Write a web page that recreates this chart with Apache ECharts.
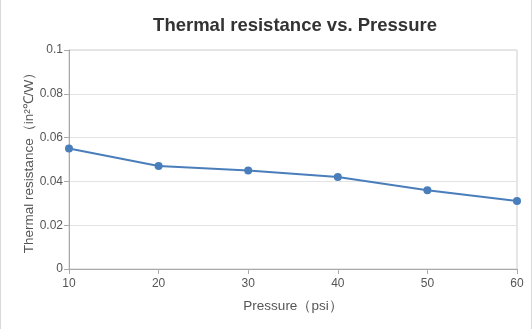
<!DOCTYPE html>
<html><head><meta charset="utf-8">
<script src="https://cdn.jsdelivr.net/npm/echarts@6/dist/echarts.min.js"></script>
<style>
html,body{margin:0;padding:0;background:#fff;}
#c{width:530px;height:329px;border-left:1px solid #d9d9d9;border-right:1px solid #d9d9d9;}
</style></head>
<body><div id="c"></div>
<script>
var pressures = [10, 20, 30, 40, 50, 60];
var resistance = [0.055, 0.047, 0.045, 0.042, 0.036, 0.031];
var chart = echarts.init(document.getElementById('c'));
chart.setOption({
  animation: false,
  title: {
    text: 'Thermal resistance vs. Pressure',
    left: 289, top: 11, textAlign: 'center',
    textStyle: {fontFamily: 'Liberation Sans', fontSize: 18.5, fontWeight: 'bold', color: '#333'}
  },
  grid: {left: 68, right: 14, top: 50, bottom: 60, show: true, borderColor: '#cccccc', borderWidth: 1},
  xAxis: {
    type: 'value', min: 10, max: 60, interval: 10,
    name: 'Pressure（psi）', nameLocation: 'middle', nameGap: 30,
    nameTextStyle: {fontFamily: 'Liberation Sans', fontSize: 13.5, color: '#555'},
    axisLine: {lineStyle: {color: '#aaaaaa'}},
    axisTick: {show: true, length: 5, lineStyle: {color: '#aaaaaa'}},
    axisLabel: {fontFamily: 'Liberation Sans', fontSize: 12, color: '#555', margin: 9},
    splitLine: {show: false}
  },
  yAxis: {
    type: 'value', min: 0, max: 0.1, interval: 0.02,
    name: 'Thermal resistance（in²℃/W）', nameLocation: 'middle', nameGap: 33, nameRotate: 90,
    nameMoveOverlap: false,
    nameTextStyle: {fontFamily: 'Liberation Sans', fontSize: 13.5, color: '#555'},
    axisLine: {show: true, lineStyle: {color: '#aaaaaa'}},
    axisTick: {show: true, length: 5, lineStyle: {color: '#aaaaaa'}},
    axisLabel: {fontFamily: 'Liberation Sans', fontSize: 12, color: '#555', margin: 6},
    splitLine: {lineStyle: {color: '#e3e3e3'}}
  },
  series: [{
    type: 'line',
    data: pressures.map(function(p, i){ return [p, resistance[i]]; }),
    symbol: 'circle', symbolSize: 8,
    lineStyle: {color: '#4a7ebb', width: 2},
    itemStyle: {color: '#4a7ebb'}
  }]
});
</script></body></html>
